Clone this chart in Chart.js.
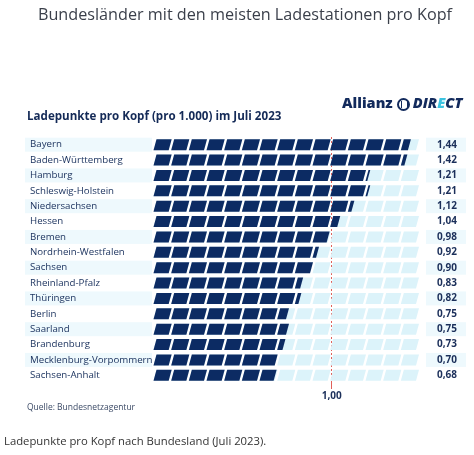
<!DOCTYPE html>
<html lang="de">
<head>
<meta charset="utf-8">
<script src="https://cdn.jsdelivr.net/npm/chart.js@4.4.0/dist/chart.umd.min.js"></script>
<style>
    html, body { margin: 0; padding: 0; background: #fff; }
    body { width: 474px; height: 455px; position: relative; overflow: hidden; font-family: "Open Sans", sans-serif; }
    #chartBox { position: absolute; left: 0; top: 0; width: 474px; height: 455px; }
    .txt { position: absolute; white-space: nowrap; }
    #pageTitle { left: 0; width: 490px; text-align: center; top: 3px; font-size: 16.2px; color: #3a3f4a; }
    #subTitle { left: 27px; top: 108px; font-size: 11.6px; font-weight: 700; color: #142a57; }
    #logo { left: 342px; top: 93px; font-size: 14.5px; font-weight: 800; color: #122a5c; }
    #logo .ring { display: inline-block; width: 13px; height: 13px; border: 2px solid #122a5c; border-radius: 50%; vertical-align: -3px; margin: 0 3px 0 4px; box-sizing: border-box; position: relative; }
    #logo .ring::before { content: ''; position: absolute; left: 2px; top: 1px; width: 5px; height: 7px; border-left: 1.5px solid #122a5c; border-right: 1.5px solid #122a5c; }
    #logo .direct { font-style: italic; }
    #logo .e { color: #3cc3e0; }
    #source { left: 27px; top: 401px; font-size: 8.5px; color: #3b4a66; }
    #caption { left: 4px; top: 433px; font-size: 11.3px; color: #333; }
</style>
</head>
<body>
<div id="chartBox"><canvas id="chart" width="474" height="455"></canvas></div>
<div class="txt" id="pageTitle">Bundesländer mit den meisten Ladestationen pro Kopf</div>
<div class="txt" id="subTitle">Ladepunkte pro Kopf (pro 1.000) im Juli 2023</div>
<div class="txt" id="logo">Allianz<span class="ring"></span><span class="direct">DIR<span class="e">E</span>CT</span></div>
<div class="txt" id="source">Quelle: Bundesnetzagentur</div>
<div class="txt" id="caption">Ladepunkte pro Kopf nach Bundesland (Juli 2023).</div>
<script>
const states = ['Bayern', 'Baden-Württemberg', 'Hamburg', 'Schleswig-Holstein', 'Niedersachsen', 'Hessen', 'Bremen',
    'Nordrhein-Westfalen', 'Sachsen', 'Rheinland-Pfalz', 'Thüringen', 'Berlin', 'Saarland', 'Brandenburg',
    'Mecklenburg-Vorpommern', 'Sachsen-Anhalt'];
const values = [1.44, 1.42, 1.21, 1.21, 1.12, 1.04, 0.98, 0.92, 0.90, 0.83, 0.82, 0.75, 0.75, 0.73, 0.70, 0.68];
const trackLength = 1.5;
const blockSize = 0.1;
const refTick = 1.0;

const valueLabels = values.map(v => v.toFixed(2).replace('.', ','));
const trackValues = states.map(() => trackLength);

const navy = '#0c2b63';
const trackColor = '#dcf3fa';
const stripeColor = '#eef9fd';

// stripes behind every other row (label + value column), drawn before the axes
const stripes = {
    id: 'stripes',
    beforeDraw(chart) {
        const { ctx, chartArea } = chart;
        const meta = chart.getDatasetMeta(0);
        ctx.save();
        ctx.fillStyle = stripeColor;
        meta.data.forEach((bar, i) => {
            if (i % 2) return;
            ctx.fillRect(25, bar.y - 7, chartArea.left - 28, 14);
            ctx.fillRect(chartArea.right + 6, bar.y - 7, 40, 14);
        });
        ctx.restore();
    }
};

// draw the bars as rows of slanted blocks
const blocks = {
    id: 'blocks',
    afterDatasetsDraw(chart) {
        const { ctx } = chart;
        const xs = chart.scales.x;
        const gap = 2.5, skew = 3;
        ctx.save();
        chart.data.datasets.forEach((ds, di) => {
            const meta = chart.getDatasetMeta(di);
            ctx.fillStyle = ds.blockColor;
            meta.data.forEach((bar, j) => {
                const v = ds.data[j];
                const h = bar.height;
                const yt = bar.y - h / 2, yb = bar.y + h / 2;
                for (let k = 0; k * blockSize < v - 1e-9; k++) {
                    const a = k * blockSize;
                    const b = Math.min((k + 1) * blockSize, v);
                    const full = b >= (k + 1) * blockSize - 1e-9;
                    const x0 = xs.getPixelForValue(a);
                    let x1 = xs.getPixelForValue(b) - (full ? gap : 0);
                    if (x1 - x0 < 1.2) x1 = x0 + 1.2;
                    ctx.beginPath();
                    ctx.moveTo(x0 - skew / 2, yb);
                    ctx.lineTo(x0 + skew / 2, yt);
                    ctx.lineTo(x1 + skew / 2, yt);
                    ctx.lineTo(x1 - skew / 2, yb);
                    ctx.closePath();
                    ctx.fill();
                }
            });
        });
        ctx.restore();
    }
};

new Chart(document.getElementById('chart'), {
    type: 'bar',
    data: {
        labels: states,
        datasets: [
            { label: 'Track', data: trackValues, blockColor: trackColor, backgroundColor: 'rgba(0,0,0,0)', grouped: false, barPercentage: 0.72, categoryPercentage: 1 },
            { label: 'Ladepunkte pro Kopf', data: values, blockColor: navy, backgroundColor: 'rgba(0,0,0,0)', grouped: false, barPercentage: 0.72, categoryPercentage: 1 }
        ]
    },
    options: {
        indexAxis: 'y',
        responsive: false,
        animation: false,
        layout: { padding: { left: 30, right: 0, top: 137, bottom: 50 } },
        plugins: { legend: { display: false }, tooltip: { enabled: false }, title: { display: false } },
        scales: {
            x: {
                type: 'linear',
                min: 0,
                max: trackLength,
                z: 1,
                afterBuildTicks: s => { s.ticks = [{ value: refTick }]; },
                afterFit: s => { s.height = 22; },
                ticks: {
                    callback: v => v.toFixed(2).replace('.', ','),
                    color: '#1b2f5a',
                    font: { family: 'Open Sans', size: 10, weight: '700' },
                    padding: 1
                },
                grid: { color: '#e0605a', lineWidth: 1, tickLength: 6 },
                border: { display: false, dash: [2, 2] }
            },
            y: {
                position: 'left',
                offset: true,
                afterFit: s => { s.width = 125; },
                grid: { display: false },
                border: { display: false },
                ticks: {
                    autoSkip: false,
                    crossAlign: 'far',
                    color: '#1e3560',
                    font: { family: 'Open Sans', size: 9.7 },
                    padding: 0
                }
            },
            y2: {
                type: 'category',
                labels: valueLabels,
                position: 'right',
                offset: true,
                afterFit: s => { s.width = 54; },
                grid: { display: false },
                border: { display: false },
                ticks: {
                    autoSkip: false,
                    crossAlign: 'near',
                    color: '#1b2f5a',
                    font: { family: 'Open Sans', size: 10, weight: '700' },
                    padding: 9
                }
            }
        }
    },
    plugins: [stripes, blocks]
});
</script>
</body>
</html>
